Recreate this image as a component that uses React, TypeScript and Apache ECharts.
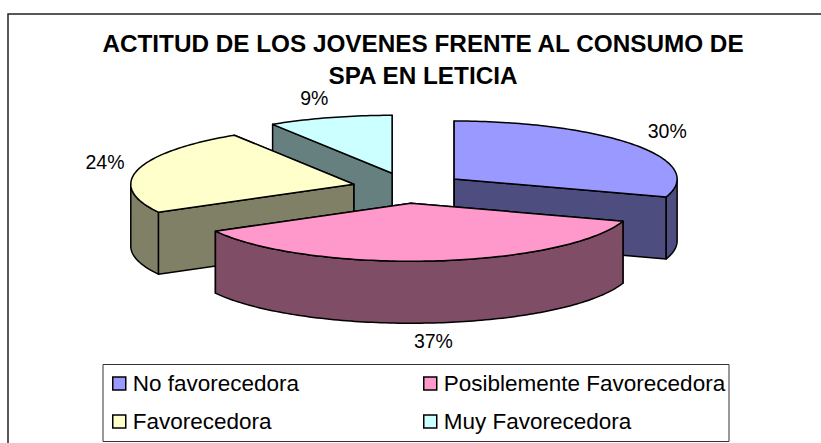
import React, { useEffect, useRef } from "react";
import * as echarts from "echarts";

const titleLines = ["ACTITUD DE LOS JOVENES FRENTE AL CONSUMO DE", "SPA EN LETICIA"];
const categories = ["No favorecedora", "Posiblemente Favorecedora", "Favorecedora", "Muy Favorecedora"];
const sliceValues = [30, 37, 24, 9];
const topColors = ["#9999ff", "#ff99cc", "#ffffcc", "#ccffff"];
const sideColors = ["#4d4d80", "#804d66", "#808066", "#668080"];
const drawOrder = [3, 0, 2, 1];

const FONT = "'Liberation Sans', Arial, sans-serif";
const cx = 407, cy = 188, rx = 223, ry = 58, depth = 62, explodeX = 57, explodeY = 15.3;
const apexNudgeX = [1, -1.5, 2, 1];
const labelNudge = [[2, 0], [-2, 0], [4, -2], [-5, 3]];
const total = sliceValues.reduce((a, b) => a + b, 0);

function renderSlice(index: number) {
  return (_params: any, api: any) => {
    const value = api.value(0);
    let before = 0;
    for (let i = 0; i < index; i++) before += sliceValues[i];
    const a0 = (before / total) * Math.PI * 2;
    const a1 = ((before + value) / total) * Math.PI * 2;
    const mid = (a0 + a1) / 2;
    const ax = cx + explodeX * Math.sin(mid) + apexNudgeX[index];
    const ay = cy - explodeY * Math.cos(mid);
    const at = (a: number, dy = 0): number[] => [ax + rx * Math.sin(a), ay - ry * Math.cos(a) + dy];
    const arc = (from: number, to: number, dy = 0) => {
      const n = Math.max(2, Math.ceil(Math.abs(to - from) / 0.02));
      const pts: number[][] = [];
      for (let i = 0; i <= n; i++) pts.push(at(from + ((to - from) * i) / n, dy));
      return pts;
    };
    const line = { stroke: "#000", lineWidth: 1.5, lineJoin: "round" };
    const side = { fill: sideColors[index], ...line };
    const children: any[] = [];
    const apex = [ax, ay];
    const apexLow = [ax, ay + depth];
    children.push({ type: "polygon", shape: { points: [apex, at(a1), at(a1, depth), apexLow] }, style: side });
    children.push({ type: "polygon", shape: { points: [apex, at(a0), at(a0, depth), apexLow] }, style: side });
    const w0 = Math.max(a0, Math.PI / 2);
    const w1 = Math.min(a1, (Math.PI * 3) / 2);
    if (w1 > w0) {
      children.push({
        type: "polygon",
        shape: { points: [...arc(w0, w1), ...arc(w1, w0, depth)] },
        style: side,
      });
    }
    children.push({
      type: "polygon",
      shape: { points: [apex, ...arc(a0, a1)] },
      style: { fill: topColors[index], ...line },
    });
    const lowerHalf = Math.cos(mid) < 0;
    children.push({
      type: "text",
      x: ax + (rx + 38) * Math.sin(mid) + labelNudge[index][0],
      y: ay - (ry + (lowerHalf ? 18 : 24)) * Math.cos(mid) + (lowerHalf && Math.abs(Math.sin(mid)) < 0.5 ? depth : 0) + labelNudge[index][1],
      style: {
        text: `${Math.round((value / total) * 100)}%`,
        fill: "#000",
        font: `19.5px ${FONT}`,
        align: "center",
        verticalAlign: "middle",
      },
    });
    return { type: "group", children };
  };
}

export default function App() {
  const ref = useRef<HTMLDivElement>(null);
  useEffect(() => {
    document.body.style.margin = "0";
    const chart = echarts.init(ref.current!, undefined, { renderer: "svg" });
    const legendBase = {
      orient: "vertical" as const,
      top: 372,
      itemWidth: 13,
      itemHeight: 13,
      itemGap: 15,
      selectedMode: false,
      icon: "rect",
      padding: 0,
      itemStyle: { borderColor: "#000", borderWidth: 1.5 },
      textStyle: { fontFamily: FONT, fontSize: 22.5, color: "#000", padding: [0, 0, 0, 2] },
    };
    chart.setOption({
      animation: false,
      backgroundColor: "#fff",
      title: {
        text: titleLines.join("\n"),
        left: 423,
        top: 27,
        textAlign: "center",
        padding: 0,
        textStyle: { fontFamily: FONT, fontSize: 24.3, fontWeight: "bold", color: "#000", lineHeight: 32 },
      },
      legend: [
        { ...legendBase, left: 112, data: [categories[0], categories[2]] },
        { ...legendBase, left: 423, data: [categories[1], categories[3]] },
      ],
      graphic: [
        {
          type: "rect",
          silent: true,
          z: -10,
          shape: { x: 8, y: 14, width: 840, height: 470 },
          style: { fill: "#fff", stroke: "#222", lineWidth: 1.5 },
        },
        {
          type: "rect",
          silent: true,
          z: -5,
          shape: { x: 103, y: 364.5, width: 626, height: 77 },
          style: { fill: "#fff", stroke: "#333", lineWidth: 1 },
        },
      ],
      series: drawOrder.map((i) => ({
        type: "custom",
        name: categories[i],
        coordinateSystem: "none",
        itemStyle: { color: topColors[i] },
        data: [sliceValues[i]],
        renderItem: renderSlice(i),
        z: 2,
      })),
    });
    return () => chart.dispose();
  }, []);
  return <div ref={ref} style={{ width: 821, height: 443 }} />;
}
